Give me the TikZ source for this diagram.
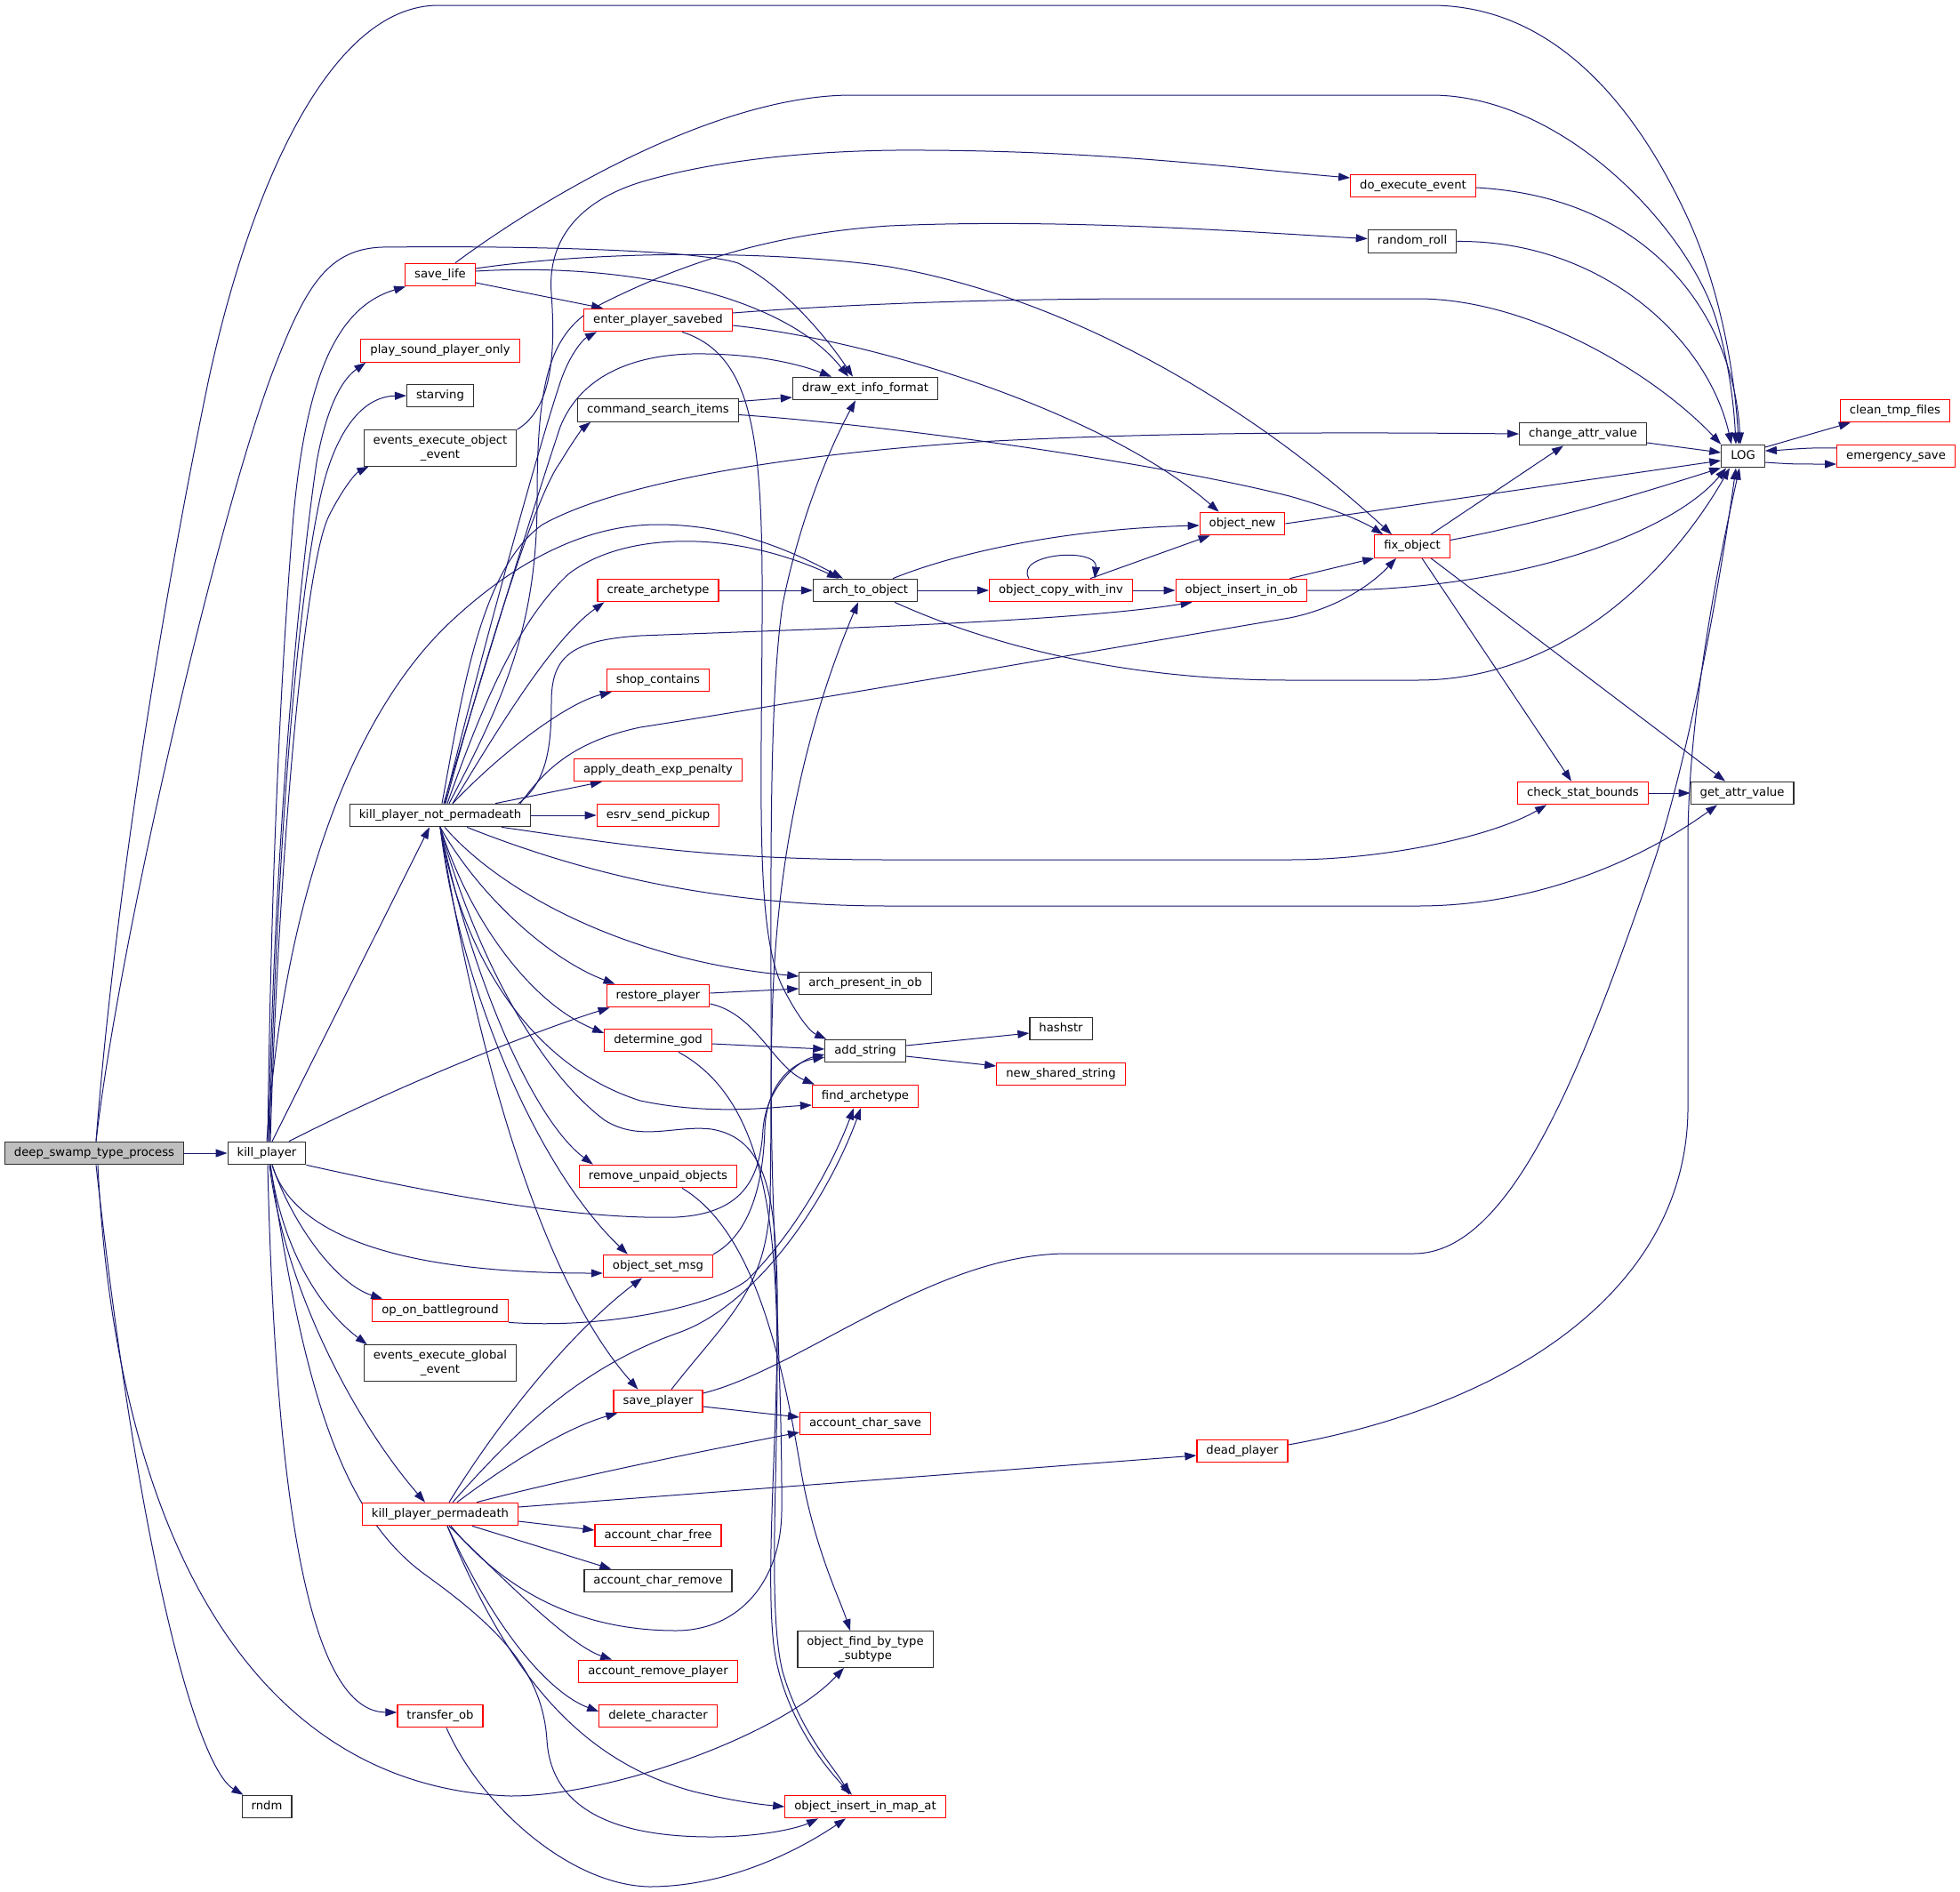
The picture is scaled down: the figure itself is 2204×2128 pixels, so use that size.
\documentclass[tikz,border=0pt]{standalone}
\usepackage{fontspec}
\setmainfont{DejaVu Sans}
\usetikzlibrary{arrows.meta}
\pgfdeclarelayer{bg}
\pgfsetlayers{bg,main}
\definecolor{edgec}{HTML}{191970}
\definecolor{redc}{HTML}{FF0000}
\definecolor{blk}{HTML}{303030}
\definecolor{rootfill}{HTML}{BFBFBF}
\begin{document}
\begin{tikzpicture}[x=1pt,y=-1pt,
  box/.style={draw=blk, line width=1.2pt, fill=white, inner xsep=10.5pt, inner ysep=0pt, font=\fontsize{13.2}{15.2}\selectfont},
  fn/.style={box, minimum height=25.5pt, text height=9.8pt, text depth=3.4pt},
  fn2/.style={box, align=center, minimum height=40.5pt},
  trunc/.style={draw=redc},
  root/.style={fill=rootfill},
  e/.style={draw=edgec, line width=1pt, -{Triangle[length=13pt,width=9pt]}},
]
\useasboundingbox (0,0) rectangle (2204,2128);

% column 0/1
\node[fn,root] (dstp) at (106,1297) {deep\_swamp\_type\_process};
\node[fn] (kp) at (300,1297) {kill\_player};
\node[fn] (rndm) at (300,2032) {rndm};
% column 2
\node[fn,trunc] (savelife) at (495,309) {save\_life};
\node[fn,trunc] (psound) at (495,394.5) {play\_sound\_player\_only};
\node[fn] (starving) at (495,445) {starving};
\node[fn2] (eeoe) at (495,504) {events\_execute\_object\\\_event};
\node[fn] (kpnp) at (495,917) {kill\_player\_not\_permadeath};
\node[fn,trunc] (opbg) at (495,1474) {op\_on\_battleground};
\node[fn2] (eege) at (495,1533) {events\_execute\_global\\\_event};
\node[fn,trunc] (kpp) at (495,1703) {kill\_player\_permadeath};
\node[fn,trunc] (tob) at (495,1930) {transfer\_ob};
% column 3
\node[fn,trunc] (epsb) at (740,360) {enter\_player\_savebed};
\node[fn] (csi) at (740,461.5) {command\_search\_items};
\node[fn,trunc] (carch) at (740,664) {create\_archetype};
\node[fn,trunc] (shop) at (740,765) {shop\_contains};
\node[fn,trunc] (adep) at (740,866) {apply\_death\_exp\_penalty};
\node[fn,trunc] (esp) at (740,917) {esrv\_send\_pickup};
\node[fn,trunc] (rp) at (740,1120) {restore\_player};
\node[fn,trunc] (dg) at (740,1170) {determine\_god};
\node[fn,trunc] (rup) at (740,1323) {remove\_unpaid\_objects};
\node[fn,trunc] (osm) at (740,1424) {object\_set\_msg};
\node[fn,trunc] (sp) at (740,1576) {save\_player};
\node[fn,trunc] (acf) at (740,1727) {account\_char\_free};
\node[fn] (acr) at (740,1778) {account\_char\_remove};
\node[fn,trunc] (arp) at (740,1880) {account\_remove\_player};
\node[fn,trunc] (dc) at (740,1930) {delete\_character};
% column 4
\node[fn] (deif) at (973,437) {draw\_ext\_info\_format};
\node[fn] (ato) at (973,664) {arch\_to\_object};
\node[fn] (apio) at (973,1106) {arch\_present\_in\_ob};
\node[fn] (addstr) at (973,1182) {add\_string};
\node[fn,trunc] (fa) at (973,1233) {find\_archetype};
\node[fn,trunc] (acs) at (973,1601) {account\_char\_save};
\node[fn2] (ofbts) at (973,1855) {object\_find\_by\_type\\\_subtype};
\node[fn,trunc] (oiima) at (973,2032) {object\_insert\_in\_map\_at};
% column 5
\node[fn,trunc] (ocwi) at (1193,664) {object\_copy\_with\_inv};
\node[fn] (hashstr) at (1193,1157) {hashstr};
\node[fn,trunc] (nss) at (1193,1208) {new\_shared\_string};
% column 6
\node[fn,trunc] (onew) at (1397,589) {object\_new};
\node[fn,trunc] (oiio) at (1396,664) {object\_insert\_in\_ob};
\node[fn,trunc] (dp) at (1397,1632) {dead\_player};
% column 7+
\node[fn,trunc] (dee) at (1589,209) {do\_execute\_event};
\node[fn] (rr) at (1588,271.5) {random\_roll};
\node[fn,trunc] (fo) at (1588,614.5) {fix\_object};
\node[fn] (cav) at (1780,488) {change\_attr\_value};
\node[fn,trunc] (csb) at (1780,892) {check\_stat\_bounds};
\node[fn] (LOGn) at (1960,513) {LOG};
\node[fn] (gav) at (1959,892) {get\_attr\_value};
\node[fn,trunc] (ctf) at (2131,462) {clean\_tmp\_files};
\node[fn,trunc] (es) at (2132,513) {emergency\_save};

\begin{pgfonlayer}{bg}
\fill[white] (0,0) rectangle (2204,2128);
% deep_swamp_type_process
\draw[e] (dstp.east) -- (kp.west);
\draw[e] ([xshift=2pt]dstp.north) .. controls (125,1060) and (170,740) .. (234,430) .. controls (280,215) and (370,6) .. (493,6) -- (1609,6) .. controls (1760,6) and (1850,140) .. (1900,250) .. controls (1940,340) and (1952,440) .. ([xshift=-5pt]LOGn.north);
\draw[e] ([xshift=2pt]dstp.north) .. controls (135,1050) and (250,560) .. (311,407) .. controls (345,320) and (370,280) .. (430,278) .. controls (600,276) and (790,282) .. (830,296) .. controls (880,320) and (930,380) .. ([xshift=-14pt]deif.north);
\draw[e] ([xshift=2pt]dstp.south) .. controls (160,1780) and (225,1990) .. ([xshift=2pt]rndm.north west);
\draw[e] ([xshift=4pt]dstp.south) .. controls (130,1720) and (280,2010) .. (574,2020) .. controls (690,2020) and (880,1950) .. ([xshift=-24pt]ofbts.south);

% kill_player
\draw[e] ([xshift=1pt]kp.north) .. controls (304,1050) and (312,800) .. (330,580) .. controls (345,420) and (380,345) .. ([xshift=1pt]savelife.south west);
\draw[e] ([xshift=2pt]kp.north) .. controls (307,1000) and (330,700) .. (356,520) .. controls (365,470) and (380,430) .. ([xshift=6pt]psound.south west);
\draw[e] ([xshift=3pt]kp.north) .. controls (310,1000) and (330,700) .. (360,560) .. controls (375,490) and (405,446) .. (starving.west);
\draw[e] ([xshift=4pt]kp.north) .. controls (312,1000) and (340,640) .. (370,580) .. controls (385,550) and (400,532) .. ([xshift=6pt]eeoe.south west);
\draw[e] ([xshift=6pt]kp.north) -- ([xshift=-12pt]kpnp.south);
\draw[e] (kp.north) .. controls (320,1000) and (400,800) .. (506,700) .. controls (570,640) and (650,590) .. (740,590) .. controls (830,590) and (900,625) .. ([xshift=-25pt]ato.north);
\draw[e] ([xshift=25pt]kp.north) .. controls (450,1220) and (600,1160) .. ([xshift=4pt]rp.south west);
\draw[e] ([xshift=6pt]kp.south) .. controls (330,1390) and (450,1432) .. ([yshift=-8pt]osm.west);
\draw[e] (kp.south east) .. controls (500,1345) and (650,1372) .. (760,1369) .. controls (840,1365) and (855,1320) .. (858,1270) .. controls (862,1220) and (900,1192) .. ([yshift=-4pt]addstr.west);
\draw[e] ([xshift=6pt]kp.south) .. controls (330,1380) and (380,1445) .. ([xshift=12pt]opbg.north west);
\draw[e] ([xshift=4pt]kp.south) .. controls (320,1420) and (370,1480) .. ([xshift=4pt]eege.north west);
\draw[e] ([xshift=3pt]kp.south) .. controls (320,1450) and (400,1600) .. ([xshift=-17pt]kpp.north);
\draw[e] ([xshift=1pt]kp.south) .. controls (310,1700) and (350,1925) .. ([yshift=4pt]tob.west);
\draw[e] ([xshift=4pt]kp.south) .. controls (340,1550) and (380,1700) .. (478,1771) .. controls (560,1830) and (610,1880) .. (615,1957) .. controls (620,2040) and (700,2066) .. (800,2066) .. controls (860,2066) and (900,2055) .. ([xshift=-53pt]oiima.south);

% kill_player_not_permadeath
\draw[e] ([xshift=5pt]kpnp.north) .. controls (530,780) and (600,520) .. (630,430) .. controls (640,400) and (655,382) .. ([xshift=15pt]epsb.south west);
\draw[e] ([xshift=10pt]kpnp.north) .. controls (570,780) and (604,700) .. (604,560) .. controls (604,420) and (620,370) .. (680,340) .. controls (780,290) and (880,262) .. (1000,254) .. controls (1200,245) and (1420,262) .. ([yshift=3pt]rr.west);
\draw[e] ([xshift=4pt]kpnp.north) .. controls (530,800) and (590,600) .. (630,480) .. controls (650,430) and (700,400) .. (778,398) .. controls (850,397) and (900,410) .. ([xshift=-38pt]deif.north);
\draw[e] ([xshift=6pt]kpnp.north) .. controls (540,760) and (600,560) .. (630,520) .. controls (645,495) and (655,482) .. ([xshift=15pt]csi.south west);
\draw[e] ([xshift=2pt]kpnp.north) .. controls (520,780) and (540,640) .. (610,590) .. controls (700,540) and (900,510) .. (1100,497) .. controls (1300,486) and (1500,486) .. (cav.west);
\draw[e] ([xshift=8pt]kpnp.north) .. controls (540,800) and (580,700) .. (640,645) .. controls (680,615) and (740,605) .. (800,610) .. controls (860,615) and (910,635) .. ([xshift=-30pt]ato.north);
\draw[e] ([xshift=14pt]kpnp.north) .. controls (560,820) and (620,720) .. ([xshift=8pt]carch.south west);
\draw[e] ([xshift=14pt]kpnp.north) .. controls (570,840) and (640,790) .. ([xshift=6pt]shop.south west);
\draw[e] ([xshift=62pt]kpnp.north) -- ([xshift=32pt]adep.south west);
\draw[e] (kpnp.east) -- (esp.west);
\draw[e] ([xshift=88pt]kpnp.north) .. controls (615,880) and (620,840) .. (620,790) .. controls (620,740) and (640,720) .. (720,715) .. controls (900,708) and (1200,700) .. ([xshift=19pt]oiio.south west);
\draw[e] ([xshift=90pt]kpnp.north) .. controls (610,870) and (640,835) .. (720,818) .. controls (900,790) and (1300,720) .. (1450,695) .. controls (1500,685) and (1540,660) .. ([xshift=-18pt]fo.south);
\draw[e] (kpnp.south) .. controls (540,1010) and (620,1080) .. ([xshift=10pt]rp.north west);
\draw[e] (kpnp.south) .. controls (530,1040) and (600,1130) .. ([yshift=8pt]dg.west);
\draw[e] (kpnp.south) .. controls (520,1080) and (600,1200) .. (720,1238) .. controls (800,1255) and (870,1245) .. ([yshift=-10pt]fa.west);
\draw[e] (kpnp.south) .. controls (530,1060) and (600,1200) .. (680,1260) .. controls (720,1285) and (760,1265) .. (800,1270) .. controls (860,1280) and (872,1340) .. (874,1450) .. controls (876,1600) and (860,1760) .. (870,1850) .. controls (880,1930) and (930,1990) .. ([xshift=-15pt]oiima.north);
\draw[e] (kpnp.south) .. controls (530,1100) and (600,1260) .. ([xshift=16pt]rup.north west);
\draw[e] (kpnp.south) .. controls (515,1100) and (600,1310) .. ([xshift=28pt]osm.north west);
\draw[e] (kpnp.south) .. controls (530,1150) and (600,1430) .. ([xshift=28pt]sp.north west);
\draw[e] ([xshift=5pt]kpnp.south) .. controls (560,1000) and (700,1080) .. ([yshift=8pt]apio.west);
\draw[e] ([xshift=69pt]kpnp.south) .. controls (700,950) and (800,967) .. (1000,967) -- (1450,967) .. controls (1560,967) and (1680,940) .. ([xshift=33pt]csb.south west);
\draw[e] ([xshift=30pt]kpnp.south) .. controls (650,980) and (800,1019) .. (1000,1019) -- (1594,1019) .. controls (1750,1019) and (1870,950) .. ([xshift=-28pt]gav.south);

% save_life
\draw[e] ([xshift=17pt]savelife.north) .. controls (600,230) and (800,107) .. (958,107) -- (1609,107) .. controls (1760,107) and (1900,260) .. (1930,360) .. controls (1945,410) and (1950,460) .. ([xshift=-8pt]LOGn.north);
\draw[e] ([yshift=-9pt]savelife.east) -- ([xshift=22pt]epsb.north west);
\draw[e] ([yshift=4pt]savelife.east) .. controls (700,295) and (880,330) .. ([xshift=-19pt]deif.north);
\draw[e] ([yshift=7pt]savelife.east) .. controls (700,278) and (900,285) .. (1000,300) .. controls (1200,335) and (1400,450) .. ([xshift=-23pt]fo.north);

% events_execute_object_event
\draw[e] (eeoe.north east) .. controls (620,460) and (625,400) .. (620,330) .. controls (616,280) and (640,230) .. (720,205) .. controls (820,175) and (950,168) .. (1040,169) .. controls (1250,170) and (1400,190) .. ([yshift=9pt]dee.west);

% enter_player_savebed
\draw[e] ([yshift=8pt]epsb.east) .. controls (980,340) and (1150,336) .. (1300,336) -- (1594,336) .. controls (1720,336) and (1860,420) .. (LOGn.north west);
\draw[e] ([yshift=-6pt]epsb.east) .. controls (1000,385) and (1250,470) .. ([xshift=22pt]onew.north west);
\draw[e] ([xshift=27pt]epsb.south) .. controls (850,400) and (858,500) .. (857,700) .. controls (856,900) and (850,1050) .. (880,1110) .. controls (895,1140) and (910,1160) .. ([xshift=2pt]addstr.north west);

% command_search_items
\draw[e] ([yshift=10pt]csi.east) -- ([yshift=-10pt]deif.west);
\draw[e] ([yshift=-5pt]csi.east) .. controls (1000,478) and (1300,520) .. (1450,558) .. controls (1500,572) and (1535,588) .. ([xshift=10pt]fo.north west);

% create_archetype, arch_to_object, object_copy_with_inv
\draw[e] (carch.east) -- (ato.west);
\draw[e] (ato.east) -- (ocwi.west);
\draw[e] ([xshift=31pt]ato.north) .. controls (1080,620) and (1200,595) .. ([yshift=-2pt]onew.west);
\draw[e] ([xshift=33pt]ato.south) .. controls (1100,720) and (1250,765) .. (1450,765) -- (1594,765) .. controls (1760,765) and (1880,640) .. ([xshift=-15pt]LOGn.south);
\draw[e] ([xshift=33pt]ocwi.north) -- ([xshift=12pt]onew.south west);
\draw[e] ([xshift=-36pt]ocwi.north) .. controls (1140,622) and (1235,615) .. ([xshift=38pt]ocwi.north);
\draw[e] (ocwi.east) -- (oiio.west);
\draw[e] ([xshift=-20pt]oiio.north east) -- (fo.south west);
\draw[e] (oiio.east) .. controls (1700,668) and (1880,600) .. ([xshift=6pt]LOGn.south west);
\draw[e] (onew.east) -- ([yshift=-5pt]LOGn.west);

% fix_object and friends
\draw[e] ([xshift=21pt]fo.north) -- ([xshift=-22pt]cav.south);
\draw[e] ([yshift=7pt]fo.east) .. controls (1750,585) and (1860,550) .. (LOGn.south west);
\draw[e] ([xshift=11pt]fo.south) -- ([xshift=-13pt]csb.north);
\draw[e] ([xshift=21pt]fo.south) -- ([xshift=-19pt]gav.north);
\draw[e] (csb.east) -- (gav.west);
\draw[e] ([yshift=-10pt]cav.east) -- ([yshift=4pt]LOGn.west);

% do_execute_event, random_roll
\draw[e] ([yshift=-2pt]dee.east) .. controls (1860,222) and (1950,360) .. ([xshift=-3pt]LOGn.north);
\draw[e] (rr.east) .. controls (1800,270) and (1920,380) .. ([xshift=-13pt]LOGn.north);

% LOG neighbours
\draw[e] ([yshift=10pt]LOGn.east) -- ([xshift=12pt]ctf.south west);
\draw[e] ([yshift=9pt]es.west) .. controls (2030,503) and (2010,506) .. ([yshift=6pt]LOGn.east);
\draw[e] ([yshift=-7pt]LOGn.east) .. controls (2015,522) .. ([yshift=-9pt]es.west);

% restore_player, determine_god, remove_unpaid_objects
\draw[e] ([yshift=3pt]rp.east) -- ([yshift=-6pt]apio.west);
\draw[e] ([yshift=-9pt]rp.east) .. controls (850,1140) and (870,1200) .. ([xshift=3pt]fa.north west);
\draw[e] ([yshift=-4pt]dg.east) -- ([yshift=2pt]addstr.west);
\draw[e] ([xshift=23pt]dg.south) .. controls (830,1220) and (865,1300) .. (872,1450) .. controls (880,1600) and (860,1800) .. (880,1880) .. controls (900,1950) and (940,1990) .. ([xshift=-18pt]oiima.north);
\draw[e] ([xshift=27pt]rup.south) .. controls (840,1380) and (875,1500) .. (900,1650) .. controls (915,1740) and (945,1800) .. ([xshift=-17pt]ofbts.north);

% add_string
\draw[e] ([yshift=6pt]addstr.east) -- ([yshift=-5pt]hashstr.west);
\draw[e] ([yshift=-6pt]addstr.east) -- ([yshift=9pt]nss.west);

% object_set_msg, op_on_battleground, save_player
\draw[e] (osm.north east) .. controls (840,1390) and (858,1340) .. (860,1270) .. controls (862,1220) and (890,1195) .. ([yshift=-7pt]addstr.west);
\draw[e] (opbg.south east) .. controls (680,1495) and (800,1470) .. (840,1440) .. controls (900,1380) and (940,1300) .. ([xshift=-13pt]fa.south);
\draw[e] ([yshift=-6pt]sp.east) -- ([yshift=7pt]acs.west);
\draw[e] ([yshift=9pt]sp.east) .. controls (900,1540) and (1050,1410) .. (1200,1410) -- (1590,1410) .. controls (1700,1410) and (1780,1200) .. (1859,972) .. controls (1900,850) and (1935,650) .. ([xshift=-8pt]LOGn.south);
\draw[e] ([xshift=15pt]sp.north) .. controls (820,1480) and (862,1450) .. (866,1350) .. controls (870,1100) and (860,820) .. (880,680) .. controls (900,580) and (935,500) .. ([xshift=-11pt]deif.south);

% kill_player_permadeath
\draw[e] ([xshift=12pt]kpp.south) .. controls (560,1780) and (640,1834) .. (760,1834) .. controls (830,1834) and (878,1780) .. (879,1700) .. controls (880,1500) and (860,1300) .. (870,1100) .. controls (880,900) and (930,760) .. ([xshift=-8pt]ato.south);
\draw[e] ([xshift=14pt]kpp.north) .. controls (580,1610) and (650,1540) .. (760,1500) .. controls (850,1470) and (930,1350) .. ([xshift=-5pt]fa.south);
\draw[e] ([xshift=10pt]kpp.north) .. controls (560,1600) and (640,1500) .. ([xshift=-18pt]osm.south);
\draw[e] ([xshift=19pt]kpp.north) .. controls (580,1640) and (640,1605) .. ([xshift=5pt]sp.south west);
\draw[e] ([xshift=41pt]kpp.north) .. controls (650,1660) and (800,1630) .. ([yshift=-10pt]acs.west);
\draw[e] ([yshift=8pt]kpp.east) -- ([yshift=-5pt]dp.west);
\draw[e] ([yshift=-8pt]kpp.east) -- ([yshift=6pt]acf.west);
\draw[e] ([xshift=36pt]kpp.south) -- ([xshift=31pt]acr.north west);
\draw[e] ([xshift=10pt]kpp.south) .. controls (570,1780) and (640,1850) .. ([xshift=38pt]arp.north west);
\draw[e] ([xshift=8pt]kpp.south) .. controls (560,1840) and (620,1905) .. ([yshift=5pt]dc.west);
\draw[e] ([xshift=8pt]kpp.south) .. controls (570,1880) and (650,1980) .. (780,2015) .. controls (830,2027) and (860,2030) .. (oiima.west);

% dead_player, transfer_ob
\draw[e] ([yshift=7pt]dp.east) .. controls (1700,1580) and (1895,1450) .. (1898,1250) -- (1898,950) .. controls (1898,800) and (1935,620) .. ([xshift=-4pt]LOGn.south);
\draw[e] ([xshift=7pt]tob.south) .. controls (540,2030) and (640,2120) .. (730,2122) .. controls (820,2122) and (900,2080) .. ([xshift=-22pt]oiima.south);
\end{pgfonlayer}
\end{tikzpicture}
\end{document}
